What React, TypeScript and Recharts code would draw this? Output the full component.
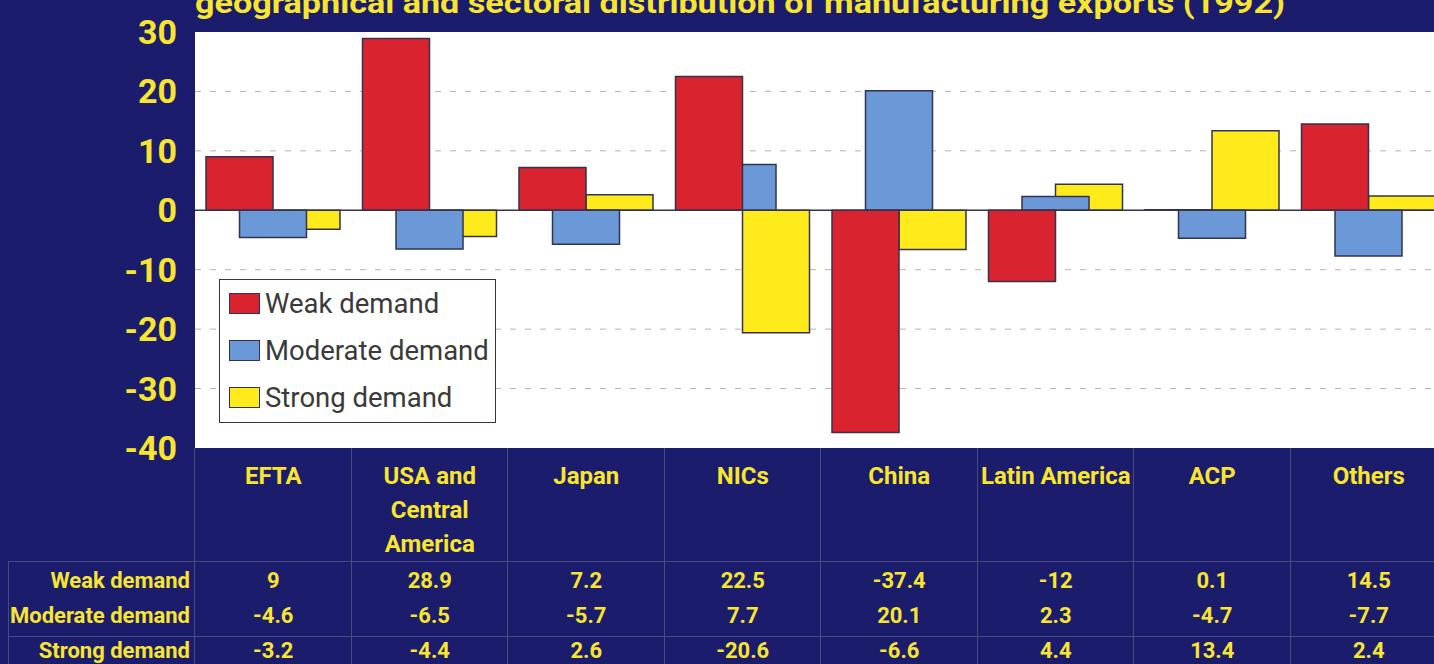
import React from "react";
import { BarChart, Bar, XAxis, YAxis, CartesianGrid, ReferenceLine, Legend } from "recharts";

const regions = ["EFTA", "USA and Central America", "Japan", "NICs", "China", "Latin America", "ACP", "Others"];
const weakDemand = [9, 28.9, 7.2, 22.5, -37.4, -12, 0.1, 14.5];
const moderateDemand = [-4.6, -6.5, -5.7, 7.7, 20.1, 2.3, -4.7, -7.7];
const strongDemand = [-3.2, -4.4, 2.6, -20.6, -6.6, 4.4, 13.4, 2.4];
const yTicks = [-40, -30, -20, -10, 0, 10, 20, 30];
const gridValues = [-30, -20, -10, 10, 20];

const series = [
  { key: "weak", name: "Weak demand", color: "#d9232f", values: weakDemand },
  { key: "moderate", name: "Moderate demand", color: "#6b98d6", values: moderateDemand },
  { key: "strong", name: "Strong demand", color: "#ffeb1c", values: strongDemand },
];

// bars overlap by half; earlier series sit on top, so each series gets its own
// x axis layer and the layers are drawn bottom (strong) to top (weak)
const layers = ["strong", "moderate", "weak"];

const data = regions.map((region, i) => ({
  region,
  weak: weakDemand[i],
  moderate: moderateDemand[i],
  strong: strongDemand[i],
}));

const NAVY = "#1c1c6c";
const YELLOW = "#f8e52e";
const OUTLINE = "#33334f";
const TABLE_LINE = "#4a4a82";
const FONT = "Roboto, 'DejaVu Sans Condensed', sans-serif";

const W = 1434;
const H = 664;
const CHART_W = 1460;
const PLOT_LEFT = 195;
const PLOT_RIGHT = 1447;
const PLOT_TOP = 32;
const PLOT_BOTTOM = 448;
const BAND = (PLOT_RIGHT - PLOT_LEFT) / regions.length;

// greedy word wrap for the region names under the plot
function wrapLabel(label: string, maxChars = 13) {
  const lines: string[] = [];
  for (const word of label.split(" ")) {
    const last = lines[lines.length - 1];
    if (last !== undefined && (last + " " + word).length <= maxChars) lines[lines.length - 1] = last + " " + word;
    else lines.push(word);
  }
  return lines;
}

function RegionTick({ x, y, payload }: any) {
  const lines = wrapLabel(String(payload.value));
  return (
    <text x={x} y={y - 2} textAnchor="middle" fill={YELLOW} fontSize={24} fontWeight="bold" fontFamily={FONT}>
      {lines.map((line, k) => (
        <tspan key={k} x={x} dy={k === 0 ? 0 : 34}>
          {line}
        </tspan>
      ))}
    </text>
  );
}

function DemandLegend() {
  return (
    <div
      style={{
        width: 277,
        height: 144,
        boxSizing: "border-box",
        border: `1.5px solid ${OUTLINE}`,
        background: "#fff",
      }}
    >
      {series.map((s) => (
        <div key={s.key} style={{ height: 47, display: "flex", alignItems: "center", paddingLeft: 9 }}>
          <span
            style={{
              flex: "none",
              width: 29,
              height: 19,
              background: s.color,
              border: `1.5px solid ${OUTLINE}`,
              marginRight: 5,
            }}
          />
          <span style={{ fontFamily: FONT, fontSize: 27.5, color: "#3a3a3a", lineHeight: 1, whiteSpace: "nowrap" }}>
            {s.name}
          </span>
        </div>
      ))}
    </div>
  );
}

const rowTop = [563, 598, 633];

const cellText: React.CSSProperties = {
  position: "absolute",
  height: 35,
  lineHeight: "35px",
  whiteSpace: "nowrap",
  color: YELLOW,
  fontFamily: FONT,
  fontWeight: "bold",
  fontSize: 22,
};

export default function App() {
  return (
    <div style={{ position: "relative", width: W, height: H, overflow: "hidden", background: NAVY }}>
      <style>{`body { margin: 0; background: ${NAVY}; }`}</style>
      <svg width={W} height={30} style={{ position: "absolute", left: 0, top: 0 }}>
        <text
          x={195}
          y={12.5}
          textLength={1090}
          lengthAdjust="spacingAndGlyphs"
          fill={YELLOW}
          fontFamily={FONT}
          fontWeight="bold"
          fontSize={30}
        >
          geographical and sectoral distribution of manufacturing exports (1992)
        </text>
      </svg>

      <BarChart
        width={CHART_W}
        height={H}
        data={data}
        margin={{ top: PLOT_TOP, right: CHART_W - PLOT_RIGHT, bottom: 0, left: 0 }}
        barSize={67}
        barGap={-33.5}
      >
        <CartesianGrid
          xAxisId="strong"
          vertical={false}
          horizontalValues={gridValues}
          stroke="#b4b4b4"
          strokeDasharray="6 9"
          fill="#ffffff"
          fillOpacity={1}
        />
        <XAxis
          xAxisId="strong"
          dataKey="region"
          height={H - PLOT_BOTTOM}
          axisLine={false}
          tickLine={false}
          interval={0}
          tick={<RegionTick />}
        />
        <XAxis xAxisId="moderate" dataKey="region" hide />
        <XAxis xAxisId="weak" dataKey="region" hide />
        <YAxis
          width={PLOT_LEFT}
          domain={[-40, 30]}
          ticks={yTicks}
          interval={0}
          axisLine={false}
          tickLine={false}
          tickMargin={12}
          tick={{ fill: YELLOW, fontSize: 34, fontWeight: "bold", fontFamily: FONT }}
        />
        <ReferenceLine xAxisId="strong" y={0} stroke={OUTLINE} strokeWidth={1.5} />
        {layers.map((layer) =>
          series.map((s) => (
            <Bar
              key={`${layer}-${s.key}`}
              xAxisId={layer}
              dataKey={s.key}
              name={s.name}
              fill={layer === s.key ? s.color : "transparent"}
              stroke={layer === s.key ? OUTLINE : "none"}
              strokeWidth={1.5}
              legendType="none"
              isAnimationActive={false}
            />
          ))
        )}
        <Legend
          layout="horizontal"
          verticalAlign="middle"
          align="center"
          content={<DemandLegend />}
          wrapperStyle={{ left: 219, top: 279, width: 277, height: 144 }}
        />
      </BarChart>

      {/* data table under the chart */}
      <div style={{ position: "absolute", left: 8, top: 561, width: W - 8, borderTop: `1px solid ${TABLE_LINE}` }} />
      <div style={{ position: "absolute", left: 8, top: 636, width: W - 8, borderTop: `1px solid ${TABLE_LINE}` }} />
      <div style={{ position: "absolute", left: 8, top: 561, height: H - 561, borderLeft: `1px solid ${TABLE_LINE}` }} />
      {regions.map((r, i) => (
        <div
          key={r}
          style={{
            position: "absolute",
            left: PLOT_LEFT + BAND * i - 1,
            top: PLOT_BOTTOM,
            height: H - PLOT_BOTTOM,
            borderLeft: `1px solid ${TABLE_LINE}`,
          }}
        />
      ))}
      {series.map((s, row) => (
        <React.Fragment key={s.key}>
          <div style={{ ...cellText, right: W - 190, top: rowTop[row] }}>{s.name}</div>
          {s.values.map((v, i) => (
            <div
              key={i}
              style={{ ...cellText, left: PLOT_LEFT + BAND * i, width: BAND, top: rowTop[row], textAlign: "center" }}
            >
              {String(v)}
            </div>
          ))}
        </React.Fragment>
      ))}
    </div>
  );
}
